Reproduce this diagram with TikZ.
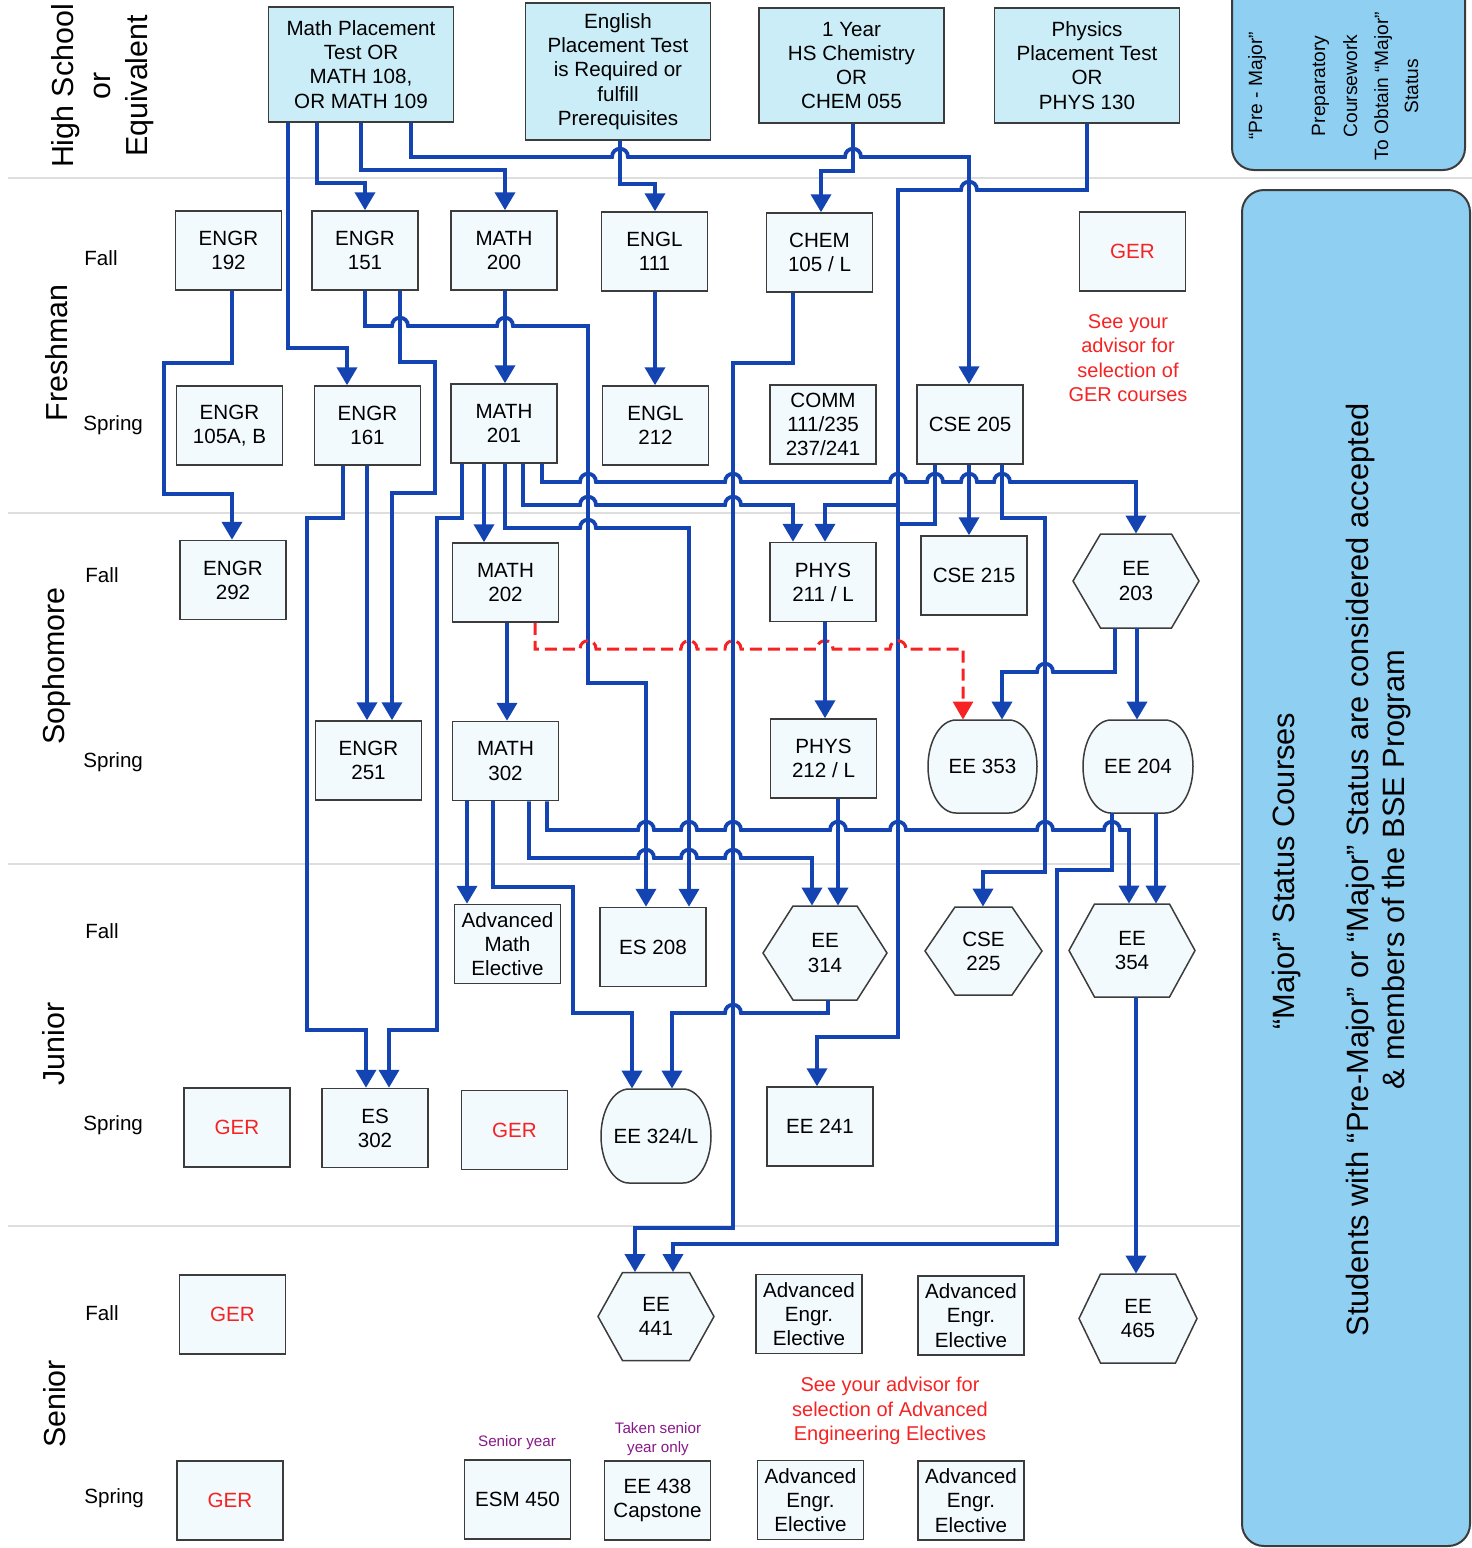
\documentclass[tikz,border=0pt]{standalone}
\usepackage{fontspec}
\setmainfont{Liberation Sans}
\usetikzlibrary{arrows.meta}
\definecolor{lineblue}{RGB}{20,68,178}
\definecolor{boxline}{RGB}{60,60,60}
\definecolor{coursefill}{RGB}{242,250,253}
\definecolor{topfill}{RGB}{203,237,248}
\definecolor{panelfill}{RGB}{142,207,242}
\definecolor{gerred}{RGB}{245,35,35}
\definecolor{notepurple}{RGB}{135,25,135}
\definecolor{sepgray}{RGB}{222,222,222}
\newcommand\cfont{\fontsize{10.3}{12.1}\selectfont}
\newcommand\hop[2]{-- ({#1-8},#2) .. controls ({#1-8},{#2-11}) and ({#1+8},{#2-11}) .. ({#1+8},#2)}
\newcommand\hopl[2]{-- ({#1+8},#2) .. controls ({#1+8},{#2-11}) and ({#1-8},{#2-11}) .. ({#1-8},#2)}
\newcommand\hexcourse[7]{%
  \path[hexshape] ({#2-#4},#3) -- ({#2-#5},{#3-#6}) -- ({#2+#5},{#3-#6}) -- ({#2+#4},#3) -- ({#2+#5},{#3+#6}) -- ({#2-#5},{#3+#6}) -- cycle;
  \node[hexinner, minimum width=#5pt, minimum height=#6pt] (#1) at (#2,#3) {#7};}
\newcommand\barrelcourse[6]{%
  \path[hexshape] ({#2-#4+28},{#3-#5}) -- ({#2+#4-28},{#3-#5})
    .. controls ({#2+#4-12.5},{#3-#5}) and ({#2+#4},{#3-0.55*#5}) .. ({#2+#4},#3)
    .. controls ({#2+#4},{#3+0.55*#5}) and ({#2+#4-12.5},{#3+#5}) .. ({#2+#4-28},{#3+#5})
    -- ({#2-#4+28},{#3+#5})
    .. controls ({#2-#4+12.5},{#3+#5}) and ({#2-#4},{#3+0.55*#5}) .. ({#2-#4},#3)
    .. controls ({#2-#4},{#3-0.55*#5}) and ({#2-#4+12.5},{#3-#5}) .. ({#2-#4+28},{#3-#5}) -- cycle;
  \node[hexinner, minimum width=40pt, minimum height=#5pt] (#1) at (#2,#3) {#6};}
\begin{document}
\begin{tikzpicture}[x=0.5pt,y=-0.5pt,
  course/.style={draw=boxline, line width=0.75pt, fill=coursefill, minimum width=53pt, minimum height=39.5pt, inner sep=0pt, align=center, font=\cfont},
  topbox/.style={course, fill=topfill, minimum width=92.5pt, minimum height=57.5pt},
  ger/.style={course, text=gerred},
  hexshape/.style={draw=boxline, line width=0.75pt, fill=coursefill},
  hexinner/.style={inner sep=0pt, align=center, font=\cfont},
  flow/.style={draw=lineblue, line width=1.9pt, -{Triangle[width=10pt,length=9pt]}},
  flowline/.style={draw=lineblue, line width=1.9pt},
  prereqdash/.style={draw=gerred, line width=1.5pt, dash pattern=on 6pt off 3pt, -{Triangle[width=10pt,length=9pt]}},
  sem/.style={anchor=base west, font=\cfont, inner sep=0pt},
  year/.style={rotate=90, anchor=base, font=\fontsize{15.2}{18.5}\selectfont, inner sep=0pt},
  panel/.style={draw=boxline, line width=1pt, fill=panelfill, rounded corners=11pt},
  paneltext/.style={rotate=90, anchor=base, font=\fontsize{15.4}{18.5}\selectfont, inner sep=0pt},
  paneltop/.style={rotate=90, anchor=base, font=\fontsize{9.6}{11}\selectfont, inner sep=0pt},
  note/.style={text=gerred, align=center, font=\fontsize{10}{12.2}\selectfont, inner sep=0pt},
  smallnote/.style={text=notepurple, align=center, font=\fontsize{7.6}{9.5}\selectfont, inner sep=0pt},
  sepline/.style={draw=sepgray, line width=0.6pt}]
\useasboundingbox (0,0) rectangle (1472,1548);

% separators
\draw[sepline] (8,178) -- (1472,178);
\draw[sepline] (8,513) -- (1240,513);
\draw[sepline] (8,864) -- (1240,864);
\draw[sepline] (8,1226) -- (1240,1226);

% side panels
\begin{scope}
\clip (0,0) rectangle (1472,1548);
\path[panel] (1232,-60) rectangle (1465,170);
\path[panel] (1242,190) rectangle (1470,1546);
\end{scope}
\node[paneltop] (pm1) at (1262,86) {“Pre - Major”};
\node[paneltop] (pm2) at (1325,86) {Preparatory};
\node[paneltop] (pm3) at (1357,86) {Coursework};
\node[paneltop] (pm4) at (1388,86) {To Obtain “Major”};
\node[paneltop] (pm5) at (1418,86) {Status};
\node[paneltext] (mj1) at (1294,871) {“Major” Status Courses};
\node[paneltext] (mj2) at (1368,870) {Students with “Pre-Major” or “Major” Status are considered accepted};
\node[paneltext] (mj3) at (1404,870) {\& members of the BSE Program};

% year labels
\node[year] (hs1) at (73,86) {High School};
\node[year] (hs2) at (110,86) {or};
\node[year] (hs3) at (147,86) {Equivalent};
\node[year] (yfr) at (68,353) {Freshman};
\node[year] (yso) at (64,666) {Sophomore};
\node[year] (yju) at (64,1044) {Junior};
\node[year] (yse) at (65,1404) {Senior};

% semester labels
\node[sem] (s1) at (84,265) {Fall};
\node[sem] (s2) at (83,430) {Spring};
\node[sem] (s3) at (85,582) {Fall};
\node[sem] (s4) at (83,767) {Spring};
\node[sem] (s5) at (85,938) {Fall};
\node[sem] (s6) at (83,1130) {Spring};
\node[sem] (s7) at (85,1320) {Fall};
\node[sem] (s8) at (84,1503) {Spring};

% top row
\node[topbox] (mp) at (361,64.5) {Math Placement\\Test OR\\MATH 108,\\OR MATH 109};
\node[topbox, minimum height=68.5pt] (ep) at (618,71.5) {English\\Placement Test\\is Required or\\fulfill\\Prerequisites};
\node[topbox] (cp) at (851.5,65.5) {1 Year\\HS Chemistry\\OR\\CHEM 055};
\node[topbox] (pp) at (1087,65.5) {Physics\\Placement Test\\OR\\PHYS 130};

% freshman fall
\node[course] (e192) at (228.5,250.5) {ENGR\\192};
\node[course] (e151) at (365,250.5) {ENGR\\151};
\node[course] (m200) at (504,250.5) {MATH\\200};
\node[course] (l111) at (654.5,251.5) {ENGL\\111};
\node[course] (ch105) at (819.5,252.5) {CHEM\\105 / L};
\node[ger] (gerA) at (1132.5,251.5) {GER};
\node[note] (noteA) at (1128,358) {See your\\advisor for\\selection of\\GER courses};

% freshman spring
\node[course] (e105) at (229.5,425.5) {ENGR\\105A, B};
\node[course] (e161) at (367.5,425.5) {ENGR\\161};
\node[course] (m201) at (504,423.5) {MATH\\201};
\node[course] (l212) at (655.5,425.5) {ENGL\\212};
\node[course] (comm) at (823,424.5) {COMM\\111/235\\237/241};
\node[course] (cse205) at (970,424.5) {CSE 205};

% sophomore fall
\node[course] (e292) at (233,580) {ENGR\\292};
\node[course] (m202) at (505.5,582.5) {MATH\\202};
\node[course] (p211) at (823,582) {PHYS\\211 / L};
\node[course] (cse215) at (974,575.5) {CSE 215};
\hexcourse{ee203}{1136}{581}{63}{35.5}{47}{EE\\203}

% sophomore spring
\node[course] (e251) at (368.5,760.5) {ENGR\\251};
\node[course] (m302) at (505.5,761) {MATH\\302};
\node[course] (p212) at (823.5,758.5) {PHYS\\212 / L};
\barrelcourse{ee353}{982.5}{766.5}{54.5}{46.5}{EE 353}
\barrelcourse{ee204}{1138}{766.5}{55}{46.5}{EE 204}

% junior fall
\node[course] (ame) at (507.5,944) {Advanced\\Math\\Elective};
\node[course] (es208) at (653,947) {ES 208};
\hexcourse{ee314}{825}{953}{62}{32}{47}{EE\\314}
\hexcourse{cse225}{983.5}{951}{58.5}{28.5}{44}{CSE\\225}
\hexcourse{ee354}{1132}{950.5}{63}{37.5}{46.5}{EE\\354}

% junior spring
\node[ger] (gerB) at (237,1127.5) {GER};
\node[course] (es302) at (375,1128) {ES\\302};
\node[ger] (gerC) at (514.5,1130) {GER};
\barrelcourse{ee324}{656}{1136}{55}{47}{EE 324/L}
\node[course] (ee241) at (820,1126.5) {EE 241};

% senior fall
\node[ger] (gerD) at (232.5,1314.5) {GER};
\hexcourse{ee441}{656}{1316.5}{58}{33.5}{44}{EE\\441}
\node[course] (aee1) at (809,1314) {Advanced\\Engr.\\Elective};
\node[course] (aee2) at (971,1315.5) {Advanced\\Engr.\\Elective};
\hexcourse{ee465}{1138}{1318.5}{59}{37.5}{44.5}{EE\\465}
\node[note] (noteB) at (890,1411) {See your advisor for\\selection of Advanced\\Engineering Electives};

% senior spring
\node[ger] (gerE) at (230,1500.5) {GER};
\node[course] (esm450) at (517.5,1499.5) {ESM 450};
\node[course] (ee438) at (657.5,1500.5) {EE 438\\Capstone};
\node[course] (aee3) at (810.5,1500) {Advanced\\Engr.\\Elective};
\node[course] (aee4) at (971,1500.5) {Advanced\\Engr.\\Elective};
\node[smallnote] (nsy) at (517,1443) {Senior year};
\node[smallnote] (nts) at (658,1439) {Taken senior\\year only};

% ---- connectors ----
\draw[flow] (288,0 |- mp.south) -- (288,348) -- (347,348) -- (347,0 |- e161.north);
\draw[flow] (317,0 |- mp.south) -- (317,183) -- (365,183) -- (365,0 |- e151.north);
\draw[flow] (361,0 |- mp.south) -- (361,170) -- (505,170) -- (505,0 |- m200.north);
\draw[flow] (411,0 |- mp.south) -- (411,157) \hop{620}{157} \hop{853}{157} -- (969,157) -- (969,0 |- cse205.north);
\draw[flow] (620,0 |- ep.south) -- (620,184) -- (655,184) -- (655,0 |- l111.north);
\draw[flow] (853,0 |- cp.south) -- (853,171) -- (821,171) -- (821,0 |- ch105.north);
\draw[flow] (1087,0 |- pp.south) -- (1087,190) \hopl{969}{190} -- (898,190) -- (898,1037) -- (817,1037) -- (817,0 |- ee241.north);
\draw[flow] (898,505) -- (825,505) -- (825,0 |- p211.north);
\draw[flow] (232,0 |- e192.south) -- (232,363) -- (164,363) -- (164,494) -- (232,494) -- (232,0 |- e292.north);
\draw[flow] (365,0 |- e151.south) -- (365,326) \hop{400}{326} \hop{505}{326} -- (588,326) -- (588,683) -- (646,683) -- (646,0 |- es208.north);
\draw[flow] (400,0 |- e151.south) -- (400,362) -- (435,362) -- (435,493) -- (392,493) -- (392,0 |- e251.north);
\draw[flow] (343,0 |- e161.south) -- (343,518) -- (307,518) -- (307,1030) -- (366,1030) -- (366,0 |- es302.north);
\draw[flow] (367,0 |- e161.south) -- (367,0 |- e251.north);
\draw[flow] (462,0 |- m201.south) -- (462,518) -- (437,518) -- (437,1030) -- (389,1030) -- (389,0 |- es302.north);
\draw[flow] (505,0 |- m200.south) -- (505,0 |- m201.north);
\draw[flow] (655,0 |- l111.south) -- (655,0 |- l212.north);
\draw[flow] (793,0 |- ch105.south) -- (793,363) -- (733,363) -- (733,1228) -- (635,1228) -- (635,0 |- ee441.north);
\draw[flow] (484,0 |- m201.south) -- (484,0 |- m202.north);
\draw[flow] (505,0 |- m201.south) -- (505,528) \hop{588}{528} -- (689,528) -- (689,0 |- es208.north);
\draw[flow] (523,0 |- m201.south) -- (523,505) \hop{588}{505} \hop{733}{505} -- (793,505) -- (793,0 |- p211.north);
\draw[flow] (542,0 |- m201.south) -- (542,482) \hop{588}{482} \hop{733}{482} \hop{898}{482} \hop{935}{482} \hop{969}{482} \hop{1002}{482} -- (1136,482) -- (1136,0 |- ee203.north);
\draw[flow] (969,0 |- cse205.south) -- (969,0 |- cse215.north);
\draw[flowline] (935,0 |- cse205.south) -- (935,524) -- (898,524);
\draw[flow] (1002,0 |- cse205.south) -- (1002,518) -- (1045,518) -- (1045,872) -- (983,872) -- (983,0 |- cse225.north);
\draw[flow] (1137,0 |- ee203.south) -- (1137,0 |- ee204.north);
\draw[flow] (1115,0 |- ee203.south) -- (1115,672) \hopl{1045}{672} -- (1002,672) -- (1002,0 |- ee353.north);
\draw[prereqdash] (535,0 |- m202.south) -- (535,649) \hop{588}{649} \hop{689}{649} \hop{733}{649} \hop{825}{649} \hop{898}{649} -- (963,649) -- (963,0 |- ee353.north);
\draw[flow] (825,0 |- p211.south) -- (825,0 |- p212.north);
\draw[flow] (507,0 |- m202.south) -- (507,0 |- m302.north);
\draw[flow] (467,0 |- m302.south) -- (467,0 |- ame.north);
\draw[flow] (493,0 |- m302.south) -- (493,887) -- (573,887) -- (573,1013) -- (632,1013) -- (632,0 |- ee324.north);
\draw[flow] (547,0 |- m302.south) -- (547,830) \hop{646}{830} \hop{689}{830} \hop{733}{830} \hop{838}{830} \hop{898}{830} \hop{1045}{830} \hop{1112}{830} -- (1129,830) -- (1129,0 |- ee354.north);
\draw[flow] (529,0 |- m302.south) -- (529,858) \hop{646}{858} \hop{689}{858} \hop{733}{858} -- (812,858) -- (812,0 |- ee314.north);
\draw[flow] (838,0 |- p212.south) -- (838,0 |- ee314.north);
\draw[flow] (1156,0 |- ee204.south) -- (1156,0 |- ee354.north);
\draw[flow] (1112,0 |- ee204.south) -- (1112,870) -- (1057,870) -- (1057,1244) -- (673,1244) -- (673,0 |- ee441.north);
\draw[flow] (828,0 |- ee314.south) -- (828,1013) \hopl{733}{1013} -- (672,1013) -- (672,0 |- ee324.north);
\draw[flow] (1136,0 |- ee354.south) -- (1136,0 |- ee465.north);
\end{tikzpicture}
\end{document}
